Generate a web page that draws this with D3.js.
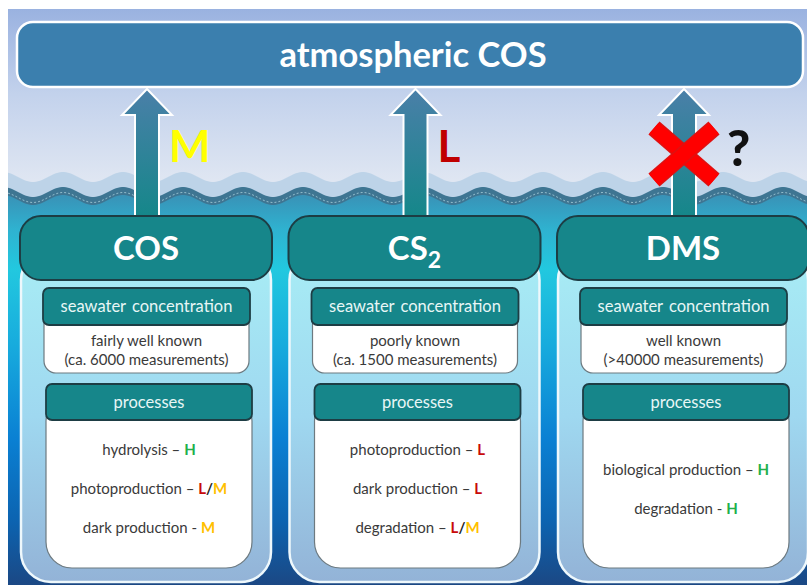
<!DOCTYPE html>
<html>
<head>
<meta charset="utf-8">
<script src="https://d3js.org/d3.v7.min.js"></script>
<style>
body { margin: 0; background: #fff; }
text { font-family: Lato, "Open Sans", sans-serif; }
</style>
</head>
<body>
<script>

// ---- data ----
const title = "atmospheric COS";
const species = ["COS", "CS2", "DMS"];
const emissionRating = ["M", "L", "?"];          // "?" = unknown, crossed out
const concHeader = "seawater concentration";
const concKnowledge = ["fairly well known", "poorly known", "well known"];
const concCount = ["(ca. 6000 measurements)", "(ca. 1500 measurements)", "(>40000 measurements)"];
const procHeader = "processes";
const procNames = [
  ["hydrolysis", "photoproduction", "dark production"],
  ["photoproduction", "dark production", "degradation"],
  ["biological production", "degradation"]
];
const procDash = [["–", "–", "-"], ["–", "–", "–"], ["–", "-"]];
const procRating = [["H", "L/M", "M"], ["L", "L", "L/M"], ["H", "H"]];

// ---- styles ----
const W = 807, H = 585;
const ratingColor = { H: "#22b04b", L: "#c80a0a", M: "#ffc000" };
const arrowLabelColor = { M: "#ffff00", L: "#c00000" };
const teal = "#16868a", tealEdge = "#1d3d44", bodyText = "#3a3a3a";

const svg = d3.select("body").append("svg").attr("width", W).attr("height", H);
const defs = svg.append("defs");

function grad(id, y1, y2, stops) {
  const g = defs.append("linearGradient").attr("id", id)
    .attr("gradientUnits", "userSpaceOnUse")
    .attr("x1", 0).attr("x2", 0).attr("y1", y1).attr("y2", y2);
  stops.forEach(s => g.append("stop").attr("offset", s[0]).attr("stop-color", s[1]));
}
grad("sky", 9, 180, [[0, "#9ab2e0"], [0.5, "#c3d2ec"], [1, "#dfe6f2"]]);
grad("water", 190, 585, [[0, "#3a8db3"], [0.1, "#2fb2d0"], [0.2, "#22c8df"], [0.4, "#17aadd"],
  [0.63, "#0a80d3"], [0.84, "#0c63b0"], [1, "#1b4884"]]);
grad("panel", 250, 582, [[0, "#a8edf5"], [0.5, "#9fd8f0"], [1, "#93b3d7"]]);
grad("arrow", 89, 216, [[0, "#4a7fa8"], [1, "#15878a"]]);

// sky background
svg.append("rect").attr("x", 8).attr("y", 9).attr("width", W - 8).attr("height", H - 9)
  .attr("fill", "url(#sky)");

// waves
const period = 60, phase = 3;
const xs = d3.range(8, W + 2, 2);
const wave = (base, amp) => x => base - amp * Math.cos(2 * Math.PI * (x - phase) / period);
function waveArea(fn, fill) {
  svg.append("path")
    .attr("d", d3.area().x(d => d).y0(H).y1(fn)(xs))
    .attr("fill", fill);
}
waveArea(wave(177, 5), "#bdd3e8");
waveArea(wave(192, 5), "#3e7592");
waveArea(wave(200, 5), "url(#water)");
svg.append("path")
  .attr("d", d3.line().x(d => d).y(wave(197.5, 5))(xs))
  .attr("fill", "none").attr("stroke", "#9cc4d2").attr("stroke-width", 0.9)
  .attr("stroke-dasharray", "2 2");

// top box
svg.append("rect").attr("x", 17).attr("y", 22).attr("width", 786).attr("height", 65)
  .attr("rx", 16).attr("fill", "#3b7fae").attr("stroke", "#fff").attr("stroke-width", 2.5);
svg.append("text").attr("x", 413).attr("y", 67).attr("text-anchor", "middle")
  .attr("fill", "#fff").attr("font-weight", 700).attr("font-size", 34.5).text(title);

// panel positions
const x = d3.scaleBand().domain(species).range([20, 809]).paddingInner(0.0615);
const bw = x.bandwidth();
const cx = s => x(s) + bw / 2 + 1;

// arrows
const shaft = 12, head = 25, tipY = 89, headY = 115, baseY = 217;
svg.selectAll(".arrow").data(species).enter().append("path")
  .attr("class", "arrow")
  .attr("d", s => {
    const c = cx(s);
    return `M${c},${tipY} L${c + head},${headY} L${c + shaft},${headY} L${c + shaft},${baseY}` +
      ` L${c - shaft},${baseY} L${c - shaft},${headY} L${c - head},${headY} Z`;
  })
  .attr("fill", "url(#arrow)").attr("stroke", "#fff").attr("stroke-width", 2);

// emission ratings
species.forEach((s, i) => {
  const r = emissionRating[i], c = cx(s);
  if (r === "?") {
    const g = svg.append("g").attr("transform", `translate(${c},154)`);
    [[-30, -26, 30, 26], [-30, 26, 30, -26]].forEach(l => {
      g.append("line").attr("x1", l[0]).attr("y1", l[1]).attr("x2", l[2]).attr("y2", l[3])
        .attr("stroke", "#e01010").attr("stroke-width", 17);
      g.append("line").attr("x1", l[0]).attr("y1", l[1]).attr("x2", l[2]).attr("y2", l[3])
        .attr("stroke", "#ff0000").attr("stroke-width", 14);
    });
    svg.append("text").attr("x", c + 43).attr("y", 166).attr("font-size", 50)
      .attr("font-weight", 900).attr("fill", "#111").text("?");
  } else {
    svg.append("text").attr("x", c + 22).attr("y", 162).attr("font-size", 44)
      .attr("font-weight", 700).attr("fill", arrowLabelColor[r]).text(r);
  }
});

// panels
const panel = svg.selectAll(".panel").data(species).enter().append("g")
  .attr("class", "panel").attr("transform", s => `translate(${x(s)},0)`);

panel.append("rect").attr("x", 1).attr("y", 250).attr("width", bw - 2).attr("height", 332)
  .attr("rx", 30).attr("fill", "url(#panel)").attr("stroke", "#eef8fc").attr("stroke-width", 2.5);

panel.append("rect").attr("x", 0).attr("y", 216).attr("width", bw).attr("height", 64)
  .attr("rx", 21).attr("fill", teal).attr("stroke", tealEdge).attr("stroke-width", 2);

const hdr = panel.append("text").attr("x", bw / 2).attr("y", 260).attr("text-anchor", "middle")
  .attr("fill", "#fff").attr("font-weight", 700).attr("font-size", 33);
hdr.each(function (s) {
  const t = d3.select(this);
  s.split(/(\d+)/).filter(p => p).forEach(p => {
    if (/\d/.test(p)) t.append("tspan").attr("font-size", 23).attr("dy", 8).text(p);
    else t.append("tspan").text(p);
  });
});

// seawater concentration box
panel.append("rect").attr("x", 24).attr("y", 300).attr("width", 205).attr("height", 73)
  .attr("rx", 12).attr("fill", "#fff").attr("stroke", "#6d7a80").attr("stroke-width", 1.2);
panel.append("rect").attr("x", 23).attr("y", 288).attr("width", 207).attr("height", 37)
  .attr("rx", 6).attr("fill", teal).attr("stroke", tealEdge).attr("stroke-width", 1.8);
panel.append("text").attr("x", 126.5).attr("y", 312).attr("text-anchor", "middle")
  .attr("fill", "#e8f6f6").attr("font-size", 16.5).attr("word-spacing", 2).text(concHeader);
panel.append("text").attr("x", 126.5).attr("y", 346).attr("text-anchor", "middle")
  .attr("fill", bodyText).attr("font-size", 15).text((s, i) => concKnowledge[i]);
panel.append("text").attr("x", 126.5).attr("y", 365).attr("text-anchor", "middle")
  .attr("fill", bodyText).attr("font-size", 15).text((s, i) => concCount[i]);

// processes box
panel.append("rect").attr("x", 26).attr("y", 395).attr("width", 206).attr("height", 173)
  .attr("rx", 26).attr("fill", "#fff").attr("stroke", "#6d7a80").attr("stroke-width", 1.2);
panel.append("rect").attr("x", 26).attr("y", 384).attr("width", 206).attr("height", 36)
  .attr("rx", 6).attr("fill", teal).attr("stroke", tealEdge).attr("stroke-width", 1.8);
panel.append("text").attr("x", 129).attr("y", 408).attr("text-anchor", "middle")
  .attr("fill", "#e8f6f6").attr("font-size", 16.5).text(procHeader);

const lineGap = 39, lineMid = 494;
panel.each(function (s, i) {
  const g = d3.select(this);
  const n = procNames[i].length;
  procNames[i].forEach((name, j) => {
    const t = g.append("text").attr("x", 129)
      .attr("y", lineMid + (j - (n - 1) / 2) * lineGap)
      .attr("text-anchor", "middle").attr("font-size", 15).attr("fill", bodyText);
    t.append("tspan").text(name + " " + procDash[i][j] + " ");
    procRating[i][j].split("/").forEach((r, k) => {
      if (k > 0) t.append("tspan").attr("font-weight", 700).attr("fill", "#222").text("/");
      t.append("tspan").attr("font-weight", 700).attr("fill", ratingColor[r]).text(r);
    });
  });
});

</script>
</body>
</html>
